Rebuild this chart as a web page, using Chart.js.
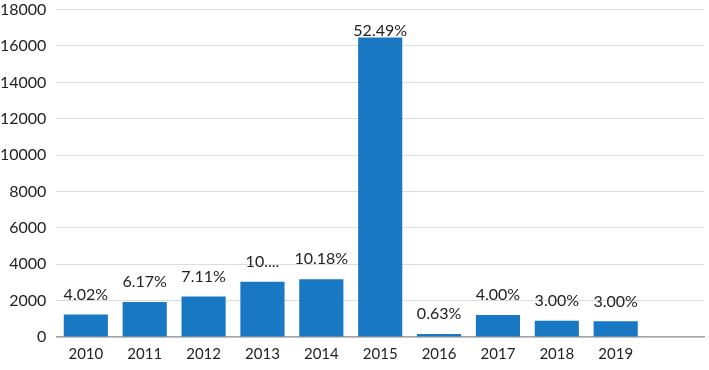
<!DOCTYPE html>
<html>
<head>
<meta charset="utf-8">
<script src="https://cdn.jsdelivr.net/npm/chart.js@4"></script>
<style>
  html, body { margin: 0; padding: 0; background: #fff; overflow: hidden; }
  canvas { display: block; }
</style>
</head>
<body>
<canvas id="chart" width="709" height="370"></canvas>
<script>
// years on the x axis (last slot is empty in the original)
const years = ['2010', '2011', '2012', '2013', '2014', '2015', '2016', '2017', '2018', '2019', ''];
// bar values
const values = [1240, 1930, 2220, 3040, 3170, 16460, 160, 1210, 890, 860, null];
// percentage labels shown above each bar
const pctLabels = ['4.02%', '6.17%', '7.11%', '10....', '10.18%', '52.49%', '0.63%', '4.00%', '3.00%', '3.00%', ''];
const yTicks = { min: 0, max: 18000, step: 2000 };

const FONT = 'Lato, "Open Sans", sans-serif';

const barLabels = {
  id: 'barLabels',
  afterDatasetsDraw(chart) {
    const ctx = chart.ctx;
    const meta = chart.getDatasetMeta(0);
    ctx.save();
    ctx.font = '16px ' + FONT;
    ctx.fillStyle = '#222';
    ctx.textAlign = 'center';
    ctx.textBaseline = 'bottom';
    meta.data.forEach((bar, i) => {
      if (values[i] == null) return;
      let y = bar.y - 12;
      y = Math.max(y, chart.chartArea.top + 29);
      ctx.fillText(pctLabels[i], bar.x, y);
    });
    ctx.restore();
  }
};

const ctx = document.getElementById('chart').getContext('2d');
new Chart(ctx, {
  type: 'bar',
  data: {
    labels: years,
    datasets: [{
      data: values,
      backgroundColor: '#1878c4',
      categoryPercentage: 1,
      barPercentage: 0.75,
    }]
  },
  options: {
    responsive: false,
    animation: false,
    layout: { padding: { top: 0, right: 5, left: 0, bottom: -1 } },
    plugins: {
      legend: { display: false },
      tooltip: { enabled: false },
    },
    scales: {
      x: {
        grid: { display: false, drawTicks: false },
        border: { color: '#a6a6a6', width: 1.5 },
        ticks: { color: '#222', font: { size: 15, family: FONT }, padding: 8 },
      },
      y: {
        min: yTicks.min,
        max: yTicks.max,
        ticks: {
          stepSize: yTicks.step,
          color: '#222',
          font: { size: 16, family: FONT },
          padding: 0,
          callback: (v) => String(v),
        },
        grid: { color: '#dcdcdc', lineWidth: 1, drawTicks: true, tickLength: 10, tickColor: 'rgba(0,0,0,0)' },
        border: { display: false },
      }
    }
  },
  plugins: [barLabels]
});
</script>
</body>
</html>
